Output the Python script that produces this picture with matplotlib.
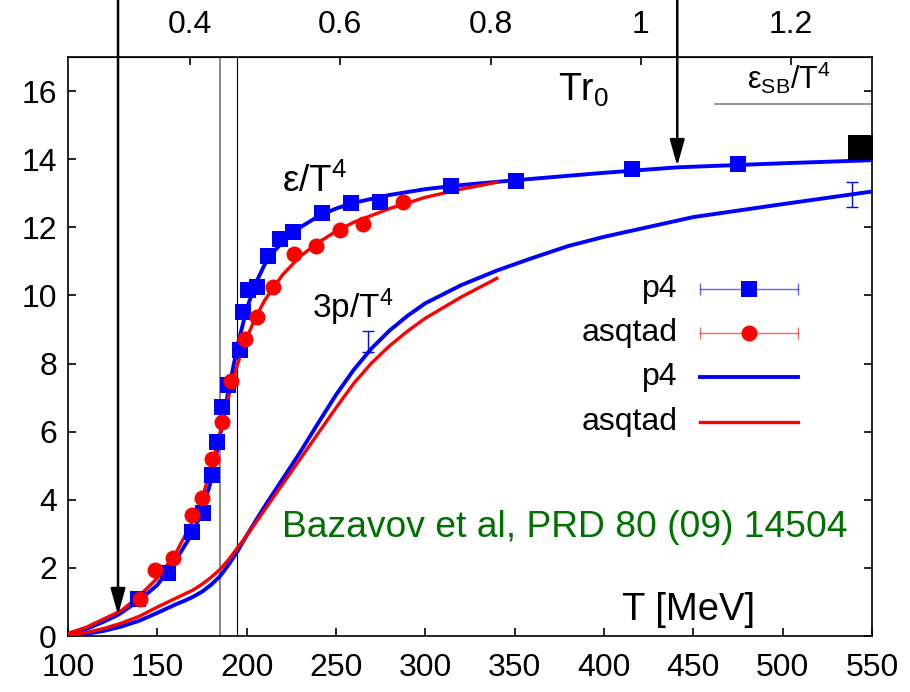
import matplotlib
matplotlib.use("Agg")
import matplotlib.pyplot as plt
import numpy as np

plt.rcParams['font.family'] = ['Liberation Sans', 'DejaVu Sans']
plt.rcParams['mathtext.fontset'] = 'custom'
plt.rcParams['mathtext.rm'] = 'Liberation Sans'
plt.rcParams['mathtext.it'] = 'Liberation Sans:italic'
plt.rcParams['mathtext.bf'] = 'Liberation Sans:bold'

# ---------------- data ----------------
# p4 data points for energy density eps/T^4
p4_T = [139.3, 156.1, 169.2, 175.7, 180.4, 183.2, 186.0, 189.7, 196.2, 198.1, 200.9,
        205.6, 212.1, 218.6, 226.1, 242.0, 258.6, 274.6, 314.5, 350.7, 415.6, 474.9]
p4_eps = [1.10, 1.84, 3.06, 3.60, 4.72, 5.70, 6.72, 7.36, 8.39, 9.51, 10.15,
          10.24, 11.17, 11.66, 11.86, 12.43, 12.72, 12.73, 13.22, 13.37, 13.70, 13.87]

# asqtad data points for eps/T^4
asq_T = [140.3, 148.7, 158.9, 169.2, 174.8, 180.4, 186.0, 191.2, 199.0, 205.6,
         214.9, 226.5, 238.7, 252.2, 265.2, 287.6]
asq_eps = [1.10, 1.94, 2.28, 3.55, 4.04, 5.19, 6.28, 7.50, 8.73, 9.36,
           10.24, 11.22, 11.45, 11.91, 12.10, 12.74]

# p4 eps/T^4 curve
p4c_T = [100, 110, 120, 128, 140, 150, 160, 170, 175, 180, 185, 190, 195, 200, 205, 210,
         215, 220, 230, 240, 250, 260, 280, 300, 320, 350, 400, 441, 500, 550]
p4c_eps = [0.05, 0.2, 0.42, 0.62, 1.05, 1.5, 2.2, 3.05, 3.65, 4.55, 5.85, 7.25, 8.55, 9.6,
           10.35, 10.9, 11.28, 11.55, 12.0, 12.32, 12.55, 12.72, 12.95, 13.12, 13.24, 13.38,
           13.6, 13.76, 13.88, 13.97]

# asqtad eps/T^4 curve
asqc_T = [100, 110, 120, 130, 140, 150, 160, 170, 175, 180, 185, 190, 195, 200, 205, 210,
          220, 230, 240, 250, 260, 280, 300, 320, 340]
asqc_eps = [0.08, 0.25, 0.5, 0.75, 1.18, 1.7, 2.4, 3.4, 4.05, 4.9, 5.95, 7.05, 8.0, 8.75,
            9.35, 9.85, 10.6, 11.15, 11.55, 11.88, 12.15, 12.55, 12.88, 13.12, 13.32]

# p4 3p/T^4 curve
p4p_T = [100, 110, 120, 130, 140, 150, 160, 165, 170, 175, 180, 185, 190, 195, 200, 205,
         210, 220, 230, 240, 250, 260, 270, 280, 290, 300, 320, 340, 360, 380, 400, 450,
         500, 550]
p4p_3p = [0.0, 0.06, 0.15, 0.28, 0.45, 0.68, 0.92, 1.03, 1.15, 1.3, 1.5, 1.75, 2.1, 2.5,
          2.95, 3.38, 3.8, 4.6, 5.4, 6.25, 7.08, 7.82, 8.45, 8.97, 9.4, 9.77, 10.3, 10.73,
          11.1, 11.45, 11.72, 12.3, 12.68, 13.05]

# asqtad 3p/T^4 curve
asqp_T = [100, 110, 120, 130, 140, 150, 160, 170, 175, 180, 185, 190, 195, 200, 205, 210,
          220, 230, 240, 250, 260, 270, 280, 290, 300, 320, 340]
asqp_3p = [0.02, 0.1, 0.22, 0.38, 0.58, 0.85, 1.1, 1.35, 1.52, 1.72, 1.95, 2.25, 2.6, 2.95,
           3.32, 3.7, 4.45, 5.2, 5.95, 6.7, 7.42, 8.02, 8.52, 8.95, 9.33, 9.95, 10.5]

# p4 3p/T^4 error bars
p4err_T = [268.0, 538.7]
p4err_y = [8.65, 12.97]
p4err_e = [0.3, 0.37]

# Stefan-Boltzmann limit
sb_T = [462, 550]
sb_val = [15.63, 15.63]
sb_point_T = [543.5]
sb_point_val = [14.37]

# vertical lines (transition region) and arrows
vline_T = [185.0, 194.6]
arrow_T = [128.0, 441.0]
arrow_val = [0.62, 13.8]

r0_conv = 420.6  # T [MeV] per unit Tr0
top_ticks = [0.4, 0.6, 0.8, 1.0, 1.2]
top_labels = ['0.4', '0.6', '0.8', '1', '1.2']
x_ticks = [100, 150, 200, 250, 300, 350, 400, 450, 500, 550]
y_ticks = [0, 2, 4, 6, 8, 10, 12, 14, 16]

# ---------------- figure ----------------
fig = plt.figure(figsize=(9.10, 6.92), dpi=100)
ax = fig.add_axes([68/910, 1-636/692, (872-68)/910, (636-57)/692])

blue = '#0000ff'
red = '#ff0000'

ax.plot(p4p_T, p4p_3p, color=blue, lw=2.8, zorder=3, solid_joinstyle='round')
ax.plot(asqp_T, asqp_3p, color=red, lw=2.4, zorder=3.1, solid_joinstyle='round')
ax.plot(p4c_T, p4c_eps, color=blue, lw=2.8, zorder=3, solid_joinstyle='round')
ax.plot(asqc_T, asqc_eps, color=red, lw=2.4, zorder=3.1, solid_joinstyle='round')

ax.plot(p4_T, p4_eps, 's', color=blue, ms=11.5, mew=0, zorder=4)
ax.plot(asq_T, asq_eps, 'o', color=red, ms=11.5, mew=0, zorder=4.1)

ax.errorbar(p4err_T, p4err_y, yerr=p4err_e, fmt='none', ecolor=blue, elinewidth=1.0,
            capsize=4, capthick=1.0, zorder=4)

ax.plot(sb_T, sb_val, color='#808080', lw=1.2, zorder=2)
ax.plot(sb_point_T, sb_point_val, 's', color='black', ms=18, mew=0, zorder=5)

ax.axvline(vline_T[0], color='#808080', lw=1.3, zorder=1)
ax.axvline(vline_T[1], color='black', lw=0.8, zorder=1)

for t, v in zip(arrow_T, arrow_val):
    ax.annotate('', xy=(t, v), xycoords='data',
                xytext=(t, 1.1), textcoords=ax.get_xaxis_transform(),
                arrowprops=dict(arrowstyle='-|>,head_length=1.6,head_width=0.45',
                                color='black', lw=1.8, shrinkA=0, shrinkB=0),
                annotation_clip=False, zorder=6)

ax.set_xlim(100, 550)
ax.set_ylim(0, 17)
ax.set_xticks(x_ticks)
ax.set_yticks(y_ticks)
ax.tick_params(axis='both', which='major', direction='in', length=6, width=1.2,
               labelsize=23)
ax.tick_params(axis='x', pad=12, top=False)
ax.tick_params(axis='y', pad=8, right=True)
for s in ax.spines.values():
    s.set_linewidth(1.2)

sec = ax.secondary_xaxis('top', functions=(lambda T: np.asarray(T) / r0_conv,
                                           lambda t: np.asarray(t) * r0_conv))
sec.set_xticks(top_ticks)
sec.set_xticklabels(top_labels)
sec.tick_params(direction='in', length=6, width=1.2, labelsize=23, pad=12)

# texts
ax.text(374.2, 15.72, r'Tr$_\mathrm{0}$', fontsize=27, ha='left', va='baseline')
ax.text(219.6, 13.03, r'ε/T$^\mathrm{4}$', fontsize=26.5, ha='left', va='baseline')
ax.text(236.5, 9.33, r'3p/T$^\mathrm{4}$', fontsize=24, ha='left', va='baseline')
ax.text(409.8, 0.47, 'T [MeV]', fontsize=27.5, ha='left', va='baseline')
ax.text(479.8, 16.07, r'ε$_\mathrm{SB}$/T$^\mathrm{4}$', fontsize=22, ha='left', va='baseline')
ax.text(219.8, 2.9, 'Bazavov et al, PRD 80 (09) 14504', fontsize=26.8, color='#007000',
        ha='left', va='baseline')

# manual legend (gnuplot style)
lx_text = (678-68)/804
lx0, lx1, lxm = (700-68)/804, (798-68)/804, (749-68)/804
rows = [(636-289)/579, (636-333)/579, (636-377)/579, (636-422)/579]
labels = ['p4', 'asqtad', 'p4', 'asqtad']
for yv, lab in zip(rows, labels):
    ax.text(lx_text, yv, lab, transform=ax.transAxes, fontsize=23, ha='right', va='center')
tr = ax.transAxes
ax.plot([lx0, lx1], [rows[0]]*2, color=blue, lw=1.0, alpha=0.6, transform=tr)
ax.plot([lx0, lx1], [rows[0]]*2, '|', color=blue, ms=8, mew=1.0, alpha=0.6, transform=tr)
ax.plot([lxm], [rows[0]], 's', color=blue, ms=11.5, mew=0, transform=tr)
ax.plot([lx0, lx1], [rows[1]]*2, color=red, lw=1.0, alpha=0.6, transform=tr)
ax.plot([lx0, lx1], [rows[1]]*2, '|', color=red, ms=8, mew=1.0, alpha=0.6, transform=tr)
ax.plot([lxm], [rows[1]], 'o', color=red, ms=11.5, mew=0, transform=tr)
ax.plot([lx0, lx1], [rows[2]]*2, color=blue, lw=2.8, transform=tr)
ax.plot([lx0, lx1], [rows[3]]*2, color=red, lw=2.4, transform=tr)

fig.savefig('out.png', dpi=100)
